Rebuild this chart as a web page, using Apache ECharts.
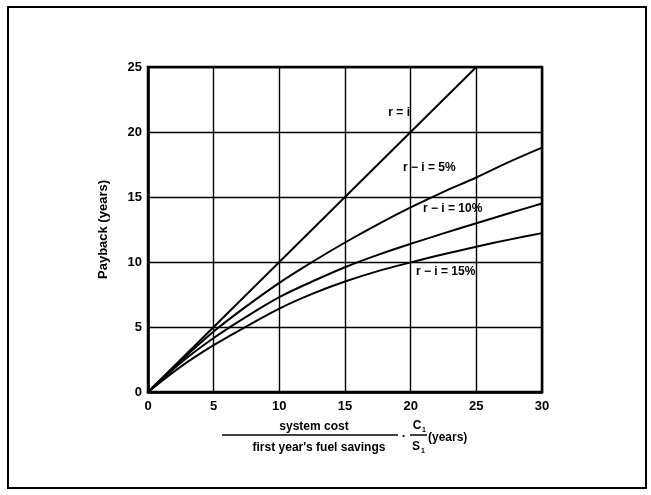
<!DOCTYPE html>
<html>
<head>
<meta charset="utf-8">
<script src="https://cdn.jsdelivr.net/npm/echarts@6/dist/echarts.min.js"></script>
<style>
html,body{margin:0;padding:0;background:#fff;}
#c{width:651px;height:495px;}
</style>
</head>
<body>
<div id="c"></div>
<script>
// ---- data ----
const ratioX = [0, 2.5, 5, 7.5, 10, 12.5, 15, 17.5, 20, 22.5, 25, 27.5, 30];
const lineRI_x = [0, 25];
const lineRI_y = [0, 25];
const payback5 = [0, 2.4, 4.65, 6.6, 8.4, 10.0, 11.5, 12.9, 14.2, 15.4, 16.5, 17.7, 18.8];
const payback10 = [0, 2.25, 4.15, 5.8, 7.3, 8.5, 9.6, 10.55, 11.4, 12.2, 12.98, 13.75, 14.5];
const payback15 = [0, 1.95, 3.6, 5.05, 6.42, 7.55, 8.5, 9.3, 9.97, 10.6, 11.18, 11.72, 12.22];
const xTicks = [0, 5, 10, 15, 20, 25, 30];
const yTicks = [0, 5, 10, 15, 20, 25];
const seriesNames = ['r = i', 'r − i = 5%', 'r − i = 10%', 'r − i = 15%'];
const yTitle = 'Payback (years)';

function pairs(xs, ys){ return xs.map((x,i)=>[x, ys[i]]); }

const FONT = '"Liberation Sans", Arial, sans-serif';
const chart = echarts.init(document.getElementById('c'), null, {renderer:'canvas'});

const lineStyle = {color:'#000', width:2};
const mk = (name, data) => ({
  name, type:'line', data, smooth:0.35, symbol:'none',
  lineStyle, itemStyle:{color:'#000'}, z:5, silent:true
});

const option = {
  backgroundColor:'#fff',
  animation:false,
  grid:{left:148, top:67, right:109, bottom:103, show:true, borderColor:'#000', borderWidth:2.5, backgroundColor:'transparent', containLabel:false},
  xAxis:{
    type:'value', min:0, max:30, interval:5,
    axisLine:{show:true, lineStyle:{color:'#000', width:2.5}},
    axisTick:{show:false},
    axisLabel:{color:'#000', fontFamily:FONT, fontSize:13, fontWeight:'bold', margin:8,
      formatter:v=> xTicks.includes(v)? String(v):''},
    splitLine:{show:true, lineStyle:{color:'#000', width:1.4}}
  },
  yAxis:{
    type:'value', min:0, max:25, interval:5,
    axisLine:{show:true, lineStyle:{color:'#000', width:2.5}},
    axisTick:{show:false},
    axisLabel:{color:'#000', fontFamily:FONT, fontSize:13, fontWeight:'bold', margin:6,
      formatter:v=> yTicks.includes(v)? String(v):''},
    splitLine:{show:true, lineStyle:{color:'#000', width:1.4}},
    name: yTitle, nameLocation:'middle', nameGap:38, nameRotate:90,
    nameTextStyle:{color:'#000', fontFamily:FONT, fontSize:13, fontWeight:'bold'}
  },
  series:[
    mk(seriesNames[0], pairs(lineRI_x, lineRI_y)),
    mk(seriesNames[1], pairs(ratioX, payback5)),
    mk(seriesNames[2], pairs(ratioX, payback10)),
    mk(seriesNames[3], pairs(ratioX, payback15))
  ],
  graphic:[
    // outer frame
    {type:'rect', shape:{x:8, y:7, width:638, height:481}, style:{fill:'none', stroke:'#000', lineWidth:2}, silent:true},
    // curve labels
    {type:'text', style:{text:seriesNames[0], x:410, y:113, textAlign:'right', textVerticalAlign:'middle', fill:'#000', font:'bold 12px '+FONT}},
    {type:'text', left:403, top:162, style:{text:seriesNames[1], fill:'#000', font:'bold 12px '+FONT}},
    {type:'text', left:423, top:203, style:{text:seriesNames[2], fill:'#000', font:'bold 12px '+FONT}},
    {type:'text', left:416, top:266, style:{text:seriesNames[3], fill:'#000', font:'bold 12px '+FONT}},
    // x-axis title as a fraction
    {type:'text', style:{text:'system cost', x:314, y:427, textAlign:'center', textVerticalAlign:'middle', fill:'#000', font:'bold 12px '+FONT}},
    {type:'line', shape:{x1:222, y1:435, x2:398, y2:435}, style:{stroke:'#000', lineWidth:1.5}},
    {type:'text', style:{text:"first year's fuel savings", x:319, y:448, textAlign:'center', textVerticalAlign:'middle', fill:'#000', font:'bold 12px '+FONT}},
    {type:'text', style:{text:'·', x:404, y:436, textAlign:'center', textVerticalAlign:'middle', fill:'#000', font:'bold 13px '+FONT}},
    {type:'text', style:{text:'C', x:417, y:426, textAlign:'center', textVerticalAlign:'middle', fill:'#000', font:'bold 12px '+FONT}},
    {type:'text', style:{text:'1', x:424, y:430, textAlign:'center', textVerticalAlign:'middle', fill:'#000', font:'bold 7px '+FONT}},
    {type:'line', shape:{x1:410, y1:435, x2:427, y2:435}, style:{stroke:'#000', lineWidth:1.5}},
    {type:'text', style:{text:'S', x:416, y:447, textAlign:'center', textVerticalAlign:'middle', fill:'#000', font:'bold 12px '+FONT}},
    {type:'text', style:{text:'1', x:423, y:451, textAlign:'center', textVerticalAlign:'middle', fill:'#000', font:'bold 7px '+FONT}},
    {type:'text', style:{text:'(years)', x:428, y:438, textAlign:'left', textVerticalAlign:'middle', fill:'#000', font:'bold 12px '+FONT}}
  ]
};
chart.setOption(option);
</script>
</body>
</html>
